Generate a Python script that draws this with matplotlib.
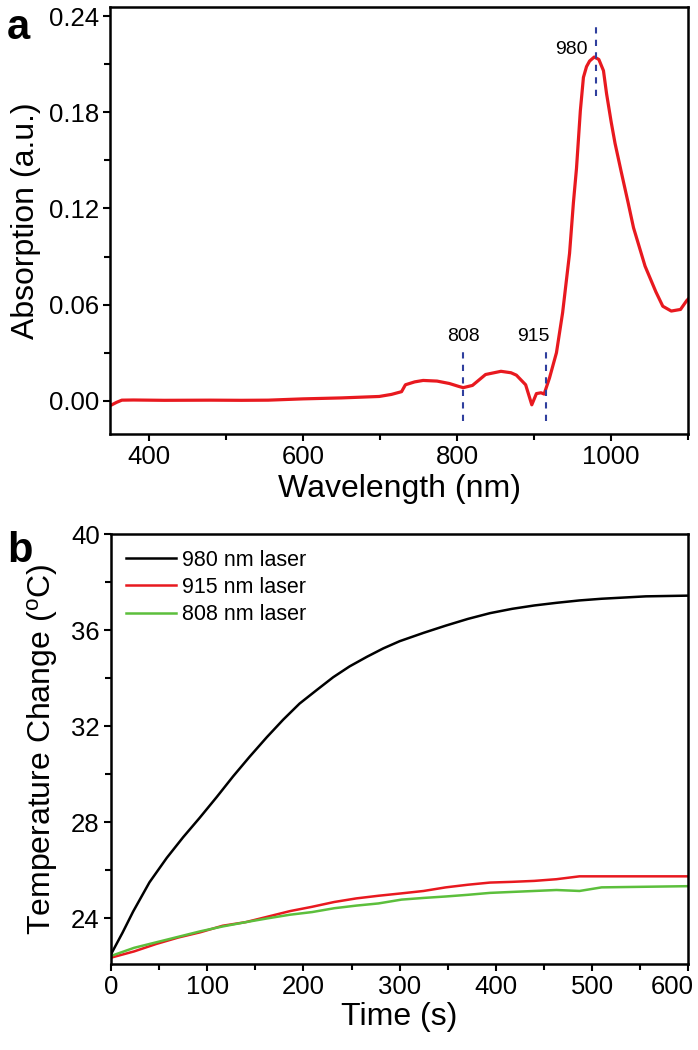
import matplotlib
matplotlib.use("Agg")
import matplotlib.pyplot as plt
from matplotlib.ticker import MultipleLocator
from matplotlib.transforms import ScaledTranslation

plt.rcParams['font.family'] = ['Liberation Sans', 'DejaVu Sans']
plt.rcParams['mathtext.fontset'] = 'custom'
plt.rcParams['mathtext.rm'] = 'Liberation Sans'
plt.rcParams['mathtext.it'] = 'Liberation Sans'

# ---- Panel a: absorption spectrum ----
wavelength = [350, 358, 365, 380, 420, 480, 520, 555, 600, 650, 699, 715, 728, 733,
              745, 756, 774, 790, 802, 808, 820, 837, 857, 870, 877, 889, 897, 903,
              909, 913, 920, 929, 937, 946, 951, 955, 960, 964, 968, 972, 978, 984,
              990, 994, 1000, 1005, 1013, 1022, 1029, 1044, 1058, 1067, 1078, 1090,
              1098, 1100]
absorption = [-0.003, -0.001, 0.0004, 0.0005, 0.0003, 0.0004, 0.0003, 0.0004, 0.0012,
              0.0018, 0.0027, 0.0040, 0.0057, 0.0100, 0.0118, 0.0127, 0.0123, 0.0108,
              0.0090, 0.0082, 0.0096, 0.0164, 0.0184, 0.0175, 0.0160, 0.0100, -0.0025,
              0.0045, 0.0050, 0.0042, 0.0143, 0.0300, 0.0550, 0.0920, 0.1236, 0.1450,
              0.1810, 0.2018, 0.2085, 0.2120, 0.2145, 0.2130, 0.2060, 0.1917, 0.1740,
              0.1607, 0.1430, 0.1236, 0.1080, 0.0840, 0.0680, 0.0590, 0.0560, 0.0570,
              0.0625, 0.0635]
marker_nm = [808, 915, 980]
marker_labels = ["808", "915", "980"]
marker_ymin = [-0.0123, -0.0123, 0.1904]
marker_ymax = [0.0328, 0.0328, 0.2355]
label_x = [808, 899, 949]
label_y = [0.040, 0.040, 0.219]

# ---- Panel b: photothermal heating ----
time_s = [0, 12, 23, 40, 58, 75, 92, 110, 127, 144, 162, 179, 196, 214, 231, 248,
          266, 283, 300, 325, 348, 371, 394, 417, 440, 463, 487, 510, 533, 556, 600]
temp_980 = [22.50, 23.40, 24.28, 25.50, 26.52, 27.38, 28.18, 29.06, 29.92, 30.73,
            31.55, 32.28, 32.95, 33.52, 34.05, 34.50, 34.90, 35.25, 35.55, 35.90,
            36.20, 36.48, 36.72, 36.90, 37.04, 37.15, 37.25, 37.32, 37.37, 37.42,
            37.45]
time_b = [0, 24, 47, 70, 93, 116, 140, 163, 186, 209, 232, 255, 278, 302, 325, 348,
          371, 394, 417, 440, 463, 487, 510, 600]
temp_915 = [22.36, 22.62, 22.93, 23.20, 23.42, 23.69, 23.84, 24.07, 24.30, 24.48,
            24.68, 24.83, 24.94, 25.04, 25.14, 25.29, 25.40, 25.49, 25.52, 25.56,
            25.63, 25.75, 25.75, 25.75]
temp_808 = [22.43, 22.77, 23.00, 23.23, 23.46, 23.66, 23.84, 24.00, 24.15, 24.26,
            24.42, 24.53, 24.62, 24.78, 24.85, 24.91, 24.98, 25.06, 25.10, 25.14,
            25.18, 25.14, 25.29, 25.34]
series_labels = ["980 nm laser", "915 nm laser", "808 nm laser"]

fig = plt.figure(figsize=(6.98, 10.5), dpi=100)
ax1 = fig.add_axes([0.158, 0.587, 0.828, 0.406])
ax2 = fig.add_axes([0.159, 0.082, 0.827, 0.409])

tick_fs = 18.5
label_fs = 23

for ax in (ax1, ax2):
    for s in ax.spines.values():
        s.set_linewidth(1.8)
    ax.tick_params(which='both', direction='out', top=False, right=False,
                   labelsize=tick_fs, width=1.5, pad=3)
    ax.tick_params(which='major', length=5)
    ax.tick_params(which='minor', length=4)

# Panel a
ax1.plot(wavelength, absorption, color='#e8191f', lw=2.3)
for xm, y0, y1 in zip(marker_nm, marker_ymin, marker_ymax):
    ax1.plot([xm, xm], [y0, y1], color='#2f3f9e', lw=1.5, ls=(0, (3, 3)))
for t, lx, ly in zip(marker_labels, label_x, label_y):
    ax1.text(lx, ly, t, fontsize=14, ha='center', va='center')
ax1.set_xlim(350, 1100)
ax1.set_ylim(-0.0205, 0.2455)
ax1.xaxis.set_major_locator(MultipleLocator(200))
ax1.xaxis.set_minor_locator(MultipleLocator(100))
ax1.yaxis.set_minor_locator(MultipleLocator(0.03))
ax1.set_yticks([0.0, 0.06, 0.12, 0.18, 0.24])
ax1.set_yticklabels(["0.00", "0.06", "0.12", "0.18", "0.24"])
ax1.set_xlabel("Wavelength (nm)", fontsize=label_fs, labelpad=4)
ax1.set_ylabel("Absorption (a.u.)", fontsize=label_fs, labelpad=6)
fig.text(0.026, 0.973, "a", fontsize=30, fontweight='bold', ha='center', va='center')

# Panel b
ax2.plot(time_s, temp_980, color='black', lw=1.8, label=series_labels[0])
ax2.plot(time_b, temp_915, color='#e8191f', lw=1.8, label=series_labels[1])
ax2.plot(time_b, temp_808, color='#5cbf3c', lw=1.8, label=series_labels[2])
ax2.set_xlim(0, 600)
ax2.set_ylim(22.1, 40)
ax2.set_xticks([0, 100, 200, 300, 400, 500, 600])
ax2.xaxis.set_minor_locator(MultipleLocator(50))
ax2.set_yticks([24, 28, 32, 36, 40])
ax2.yaxis.set_minor_locator(MultipleLocator(2))
last = ax2.xaxis.get_major_ticks()[-1].label1
last.set_horizontalalignment('right')
last.set_transform(last.get_transform() + ScaledTranslation(6 / 100, 0, fig.dpi_scale_trans))
ax2.set_xlabel("Time (s)", fontsize=label_fs, labelpad=2)
ax2.set_ylabel(r"Temperature Change ($\mathrm{^{o}}$C)", fontsize=label_fs, labelpad=8)
ax2.legend(loc='upper left', frameon=False, fontsize=15.5, handlelength=2.3,
           handletextpad=0.3, labelspacing=0.3, borderaxespad=0.3,
           bbox_to_anchor=(0.0, 1.0))
fig.text(0.029, 0.475, "b", fontsize=30, fontweight='bold', ha='center', va='center')

fig.savefig("out.png", dpi=100)
